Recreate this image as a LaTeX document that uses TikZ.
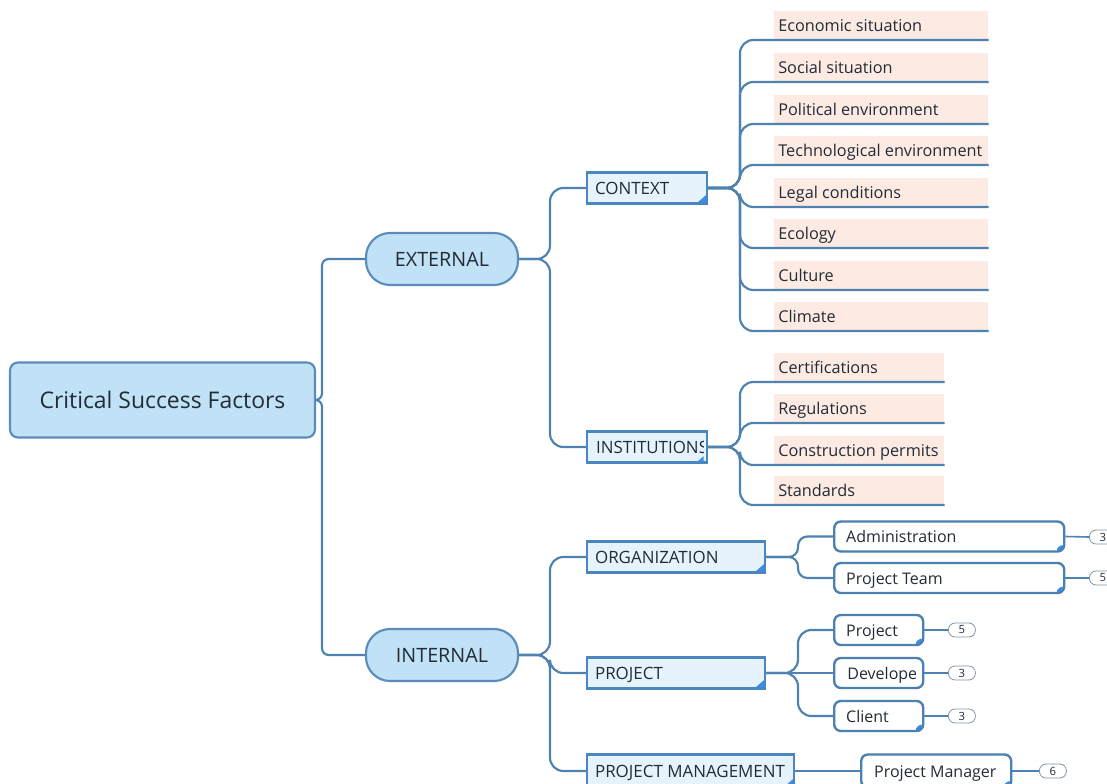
\documentclass[tikz,border=0pt]{standalone}
\usepackage{fontspec}
\setmainfont{Open Sans}
\definecolor{lineblue}{HTML}{4E82B0}
\definecolor{rootfill}{HTML}{C0E1F6}
\definecolor{rootborder}{HTML}{5A8DB9}
\definecolor{subfill}{HTML}{E6F2FC}
\definecolor{subborder}{HTML}{4A86BF}
\definecolor{triblue}{HTML}{3A8EE8}
\definecolor{leafpink}{HTML}{FDEBE3}
\definecolor{wborder}{HTML}{4C80B0}
\definecolor{txt}{HTML}{222C36}
\definecolor{badgeborder}{HTML}{7F97AE}
\newcommand\cornertri{\fill[triblue] (path picture bounding box.south east) -- ++(-8pt,0pt) -- ++(8pt,7pt) -- cycle;}
\newcommand\lbox[2]{\makebox[#1][l]{#2}}
\begin{document}
\begin{tikzpicture}[x=0.75pt,y=-0.75pt,
  conn/.style={draw=lineblue, line width=1.6pt, rounded corners=10pt},
  thinconn/.style={draw=lineblue, line width=1.2pt},
  rootbox/.style={draw=rootborder, fill=rootfill, line width=1.6pt, rounded corners=6pt,
    minimum width=305*0.75pt, minimum height=75*0.75pt, text=txt,
    font=\fontsize{17.2}{20}\selectfont},
  pill/.style={draw=rootborder, fill=rootfill, line width=1.6pt, rounded corners=18pt,
    minimum width=152*0.75pt, minimum height=52*0.75pt, text=txt,
    font=\fontsize{14.8}{17}\selectfont},
  subbox/.style={draw=subborder, fill=subfill, line width=1.6pt, anchor=west,
    minimum height=31*0.75pt, inner xsep=8*0.75pt, inner ysep=0pt, text=txt,
    text height=9.6pt, text depth=0pt,
    font=\fontsize{12.7}{15}\selectfont, path picture={\cornertri}},
  wbox/.style={draw=wborder, fill=white, line width=1.8pt, rounded corners=5pt, anchor=west,
    minimum height=30*0.75pt, inner xsep=12*0.75pt, inner ysep=0pt, text=txt,
    text height=9.1pt, text depth=0pt,
    font=\fontsize{12}{14}\selectfont, path picture={\cornertri}},
  leaf/.style={fill=leafpink, anchor=south west, minimum height=29*0.75pt,
    inner xsep=4*0.75pt, inner ysep=0pt, text=txt,
    text height=9.3pt, text depth=0pt,
    font=\fontsize{12.2}{14}\selectfont},
  badge/.style={draw=badgeborder, fill=white, line width=0.6pt, rounded corners=5pt,
    minimum width=27*0.75pt, minimum height=14*0.75pt, inner sep=0pt, anchor=west,
    text=txt, font=\fontsize{8.5}{9}\selectfont}
]
\clip (0,0) rectangle (1107,784);
\fill[white] (0,0) rectangle (1107,784);

% main nodes
\node[rootbox] (root) at (162.5,400) {Critical Success Factors};
\node[pill] (ext) at (442,259) {EXTERNAL};
\node[pill] (int) at (442,655) {INTERNAL};

% second level
\node[subbox] (ctx) at (586,188) {\lbox{78pt}{CONTEXT}};
\node[subbox, path picture={
  \clip (path picture bounding box.south west) rectangle ([xshift=-2.5pt]path picture bounding box.north east);
  \node[anchor=base west, inner sep=0pt, text=txt, font=\fontsize{12.7}{15}\selectfont]
    at ([xshift=6pt, yshift=-4.8pt]path picture bounding box.west) {INSTITUTIONS};
  \cornertri}] (inst) at (586,447) {\lbox{78pt}{}};
\node[subbox] (org) at (586,557) {\lbox{121.5pt}{ORGANIZATION}};
\node[subbox] (proj) at (586,673) {\lbox{121.5pt}{PROJECT}};
\node[subbox, minimum height=33*0.75pt] (pm) at (586,771) {\lbox{143.25pt}{PROJECT MANAGEMENT}};

% context leaves
\node[leaf] (c1) at (774,40) {\lbox{154.5pt}{Economic situation}};
\node[leaf] (c2) at (774,82) {\lbox{154.5pt}{Social situation}};
\node[leaf] (c3) at (774,124) {\lbox{154.5pt}{Political environment}};
\node[leaf] (c4) at (774,165) {\lbox{154.5pt}{Technological environment}};
\node[leaf] (c5) at (774,207) {\lbox{154.5pt}{Legal conditions}};
\node[leaf] (c6) at (774,248) {\lbox{154.5pt}{Ecology}};
\node[leaf] (c7) at (774,290) {\lbox{154.5pt}{Culture}};
\node[leaf] (c8) at (774,331) {\lbox{154.5pt}{Climate}};

% institution leaves
\node[leaf] (i1) at (774,382) {\lbox{121.5pt}{Certifications}};
\node[leaf] (i2) at (774,423) {\lbox{121.5pt}{Regulations}};
\node[leaf] (i3) at (774,465) {\lbox{121.5pt}{Construction permits}};
\node[leaf] (i4) at (774,505) {\lbox{121.5pt}{Standards}};

% white boxes
\node[wbox] (adm) at (833,536.5) {\lbox{154.5pt}{Administration}};
\node[wbox] (team) at (833,578) {\lbox{154.5pt}{Project Team}};
\node[wbox] (pj) at (833,630) {\lbox{48.75pt}{Project}};
\node[wbox, path picture={
  \clip (path picture bounding box.south west) rectangle ([xshift=-5.5pt]path picture bounding box.north east);
  \node[anchor=base west, inner sep=0pt, text=txt, font=\fontsize{12}{14}\selectfont]
    at ([xshift=9pt, yshift=-4.55pt]path picture bounding box.west) {Developer};
  \cornertri}] (dev) at (833,673) {\lbox{48.75pt}{}};
\node[wbox] (cli) at (833,716) {\lbox{48.75pt}{Client}};
\node[wbox, minimum height=33*0.75pt, inner xsep=13*0.75pt] (pmgr) at (860,771) {\lbox{93pt}{Project Manager}};

% badges
\node[badge] (b1) at (1089,537) {3};
\node[badge] (b2) at (1089,578) {5};
\node[badge] (b3) at (948,630) {5};
\node[badge] (b4) at (948,673) {3};
\node[badge] (b5) at (948,716) {3};
\node[badge] (b6) at (1039,771) {6};

% connectors
\draw[conn, rounded corners=5pt] (root.east) -- (322,400) |- (ext.west);
\draw[conn, rounded corners=5pt] (root.east) -- (322,400) |- (int.west);

\draw[conn] (ext.east) -- (550,259) |- (ctx.west);
\draw[conn] (ext.east) -- (550,259) |- (inst.west);

\draw[conn] (int.east) -- (550,655) |- (org.west);
\draw[conn] (int.east) -- (550,655) |- (proj.west);
\draw[conn] (int.east) -- (550,655) |- (pm.west);

\foreach \n in {c1,c2,c3,c4,c5,c6,c7,c8}
  \draw[conn] (ctx.east) -- (740,188) |- (\n.south east);
\foreach \n in {i1,i2,i3,i4}
  \draw[conn] (inst.east) -- (740,447) |- (\n.south east);

\draw[conn, rounded corners=7pt] (org.east) -- (798,557) |- (adm.west);
\draw[conn, rounded corners=7pt] (org.east) -- (798,557) |- (team.west);

\draw[conn] (proj.east) -- (798,673) |- (pj.west);
\draw[conn] (proj.east) -- (dev.west);
\draw[conn] (proj.east) -- (798,673) |- (cli.west);

\draw[conn] (pm.east) -- (pmgr.west);

\draw[thinconn] (adm.east) -- (b1.west);
\draw[thinconn] (team.east) -- (b2.west);
\draw[thinconn] (pj.east) -- (b3.west);
\draw[thinconn] (dev.east) -- (b4.west);
\draw[thinconn] (cli.east) -- (b5.west);
\draw[thinconn] (pmgr.east) -- (b6.west);
\end{tikzpicture}
\end{document}
